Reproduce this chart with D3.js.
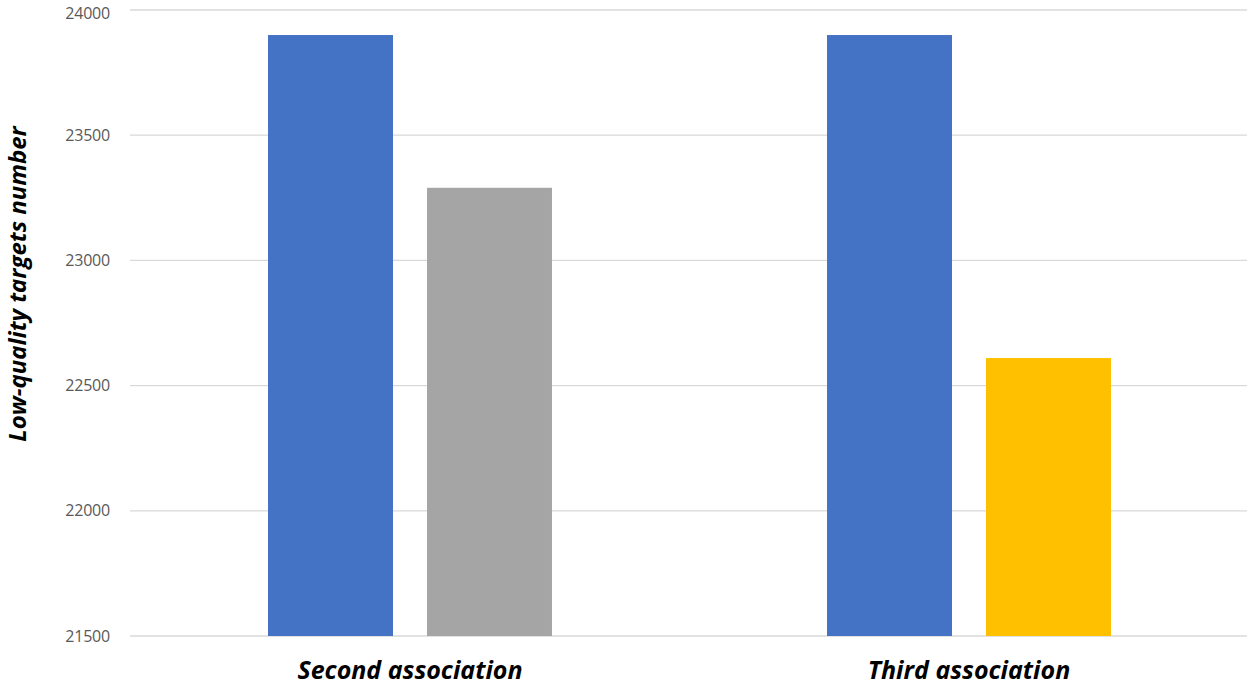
<!DOCTYPE html>
<html><head><meta charset="utf-8">
<script src="https://cdn.jsdelivr.net/npm/d3@7"></script>
<style>body{margin:0;background:#fff}</style>
</head><body>
<svg id="c" width="1250" height="686"></svg>
<script>
const categories = ["Second association", "Third association"];
const seriesNames = ["Before", "After"];
const values = [[23900, 23290], [23900, 22610]];
const colors = [["#4472C4", "#A5A5A5"], ["#4472C4", "#FFC000"]];
const yTicks = [21500, 22000, 22500, 23000, 23500, 24000];
const yTitle = "Low-quality targets number";

const svg = d3.select("#c");
const x0 = d3.scaleBand().domain(categories).range([130.5, 1248.5]).padding(0);
const bw = x0.bandwidth();
const x1 = d3.scaleBand().domain([0, 1]).range([bw * 0.246, bw * 0.754]).paddingInner(0.214).paddingOuter(0);
const y = d3.scaleLinear().domain([21500, 24000]).range([636, 10]);

// gridlines
svg.append("g").selectAll("line").data(yTicks).join("line")
  .attr("x1", 130).attr("x2", 1247)
  .attr("y1", d => y(d)).attr("y2", d => y(d))
  .attr("stroke", "#d9d9d9").attr("stroke-width", 1.3);

// y axis labels
const yAxis = d3.axisLeft(y).tickValues(yTicks).tickSize(0).tickPadding(0).tickFormat(d3.format("d"));
const ga = svg.append("g").attr("transform", "translate(110,0)").call(yAxis);
ga.select(".domain").remove();
ga.selectAll("text").attr("font-family", "Open Sans, sans-serif").attr("font-size", 16)
  .attr("letter-spacing", -0.2).attr("fill", "#595959")
  .attr("dy", d => d === 24000 ? "0.5em" : "0.32em");

// bars
categories.forEach((c, i) => {
  svg.append("g").selectAll("rect").data(values[i]).join("rect")
    .attr("x", (d, j) => x0(c) + x1(j))
    .attr("width", x1.bandwidth())
    .attr("y", d => y(d))
    .attr("height", d => y(21500) - y(d))
    .attr("fill", (d, j) => colors[i][j]);
});

// category labels
svg.append("g").selectAll("text").data(categories).join("text")
  .attr("x", d => x0(d) + bw / 2).attr("y", 679)
  .attr("text-anchor", "middle")
  .attr("font-family", "Open Sans, sans-serif").attr("font-weight", "bold").attr("font-style", "italic")
  .attr("font-size", 25).attr("fill", "#000")
  .text(d => d);

// y title
svg.append("text")
  .attr("transform", "translate(26,284) rotate(-90)")
  .attr("text-anchor", "middle")
  .attr("font-family", "Open Sans, sans-serif").attr("font-weight", "bold").attr("font-style", "italic")
  .attr("font-size", 24).attr("fill", "#000")
  .text(yTitle);
</script>
</body></html>
